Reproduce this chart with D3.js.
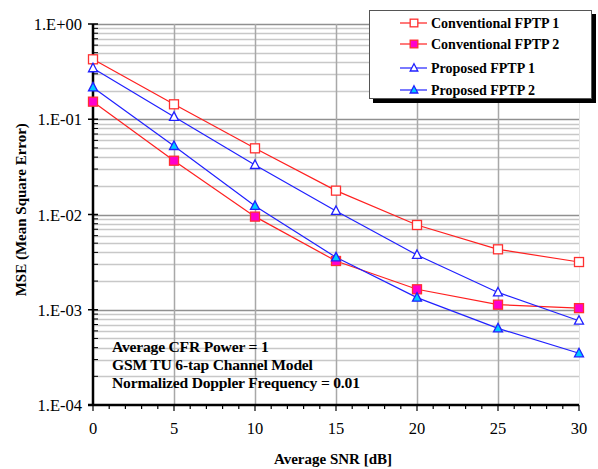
<!DOCTYPE html>
<meta charset="utf-8">
<style>
body { margin: 0; background: #fff; }
text { font-family: "Liberation Serif", "Times New Roman", serif; }
</style>
<body>
<div id="chart"></div>
<script src="https://d3js.org/d3.v7.min.js"></script>
<script>

var snr = [0, 5, 10, 15, 20, 25, 30];

var convFptp1 = [0.426, 0.1435, 0.0495, 0.0178, 0.00776, 0.00431, 0.00317];
var convFptp2 = [0.153, 0.0367, 0.0095, 0.00325, 0.00164, 0.00113, 0.00104];
var propFptp1 = [0.343, 0.106, 0.0331, 0.0109, 0.00376, 0.00152, 0.000767];
var propFptp2 = [0.216, 0.0524, 0.0123, 0.00355, 0.00134, 0.000638, 0.000349];

var yTickLabels = ["1.E-04", "1.E-03", "1.E-02", "1.E-01", "1.E+00"];
var notes = ["Average CFR Power = 1", "GSM TU 6-tap Channel Model", "Normalized Doppler Frequency = 0.01"];

var series = [
  {name: "Conventional FPTP 1", values: convFptp1, line: "#ff2020", fill: "#ffffff", stroke: "#ff3030", shape: "square"},
  {name: "Conventional FPTP 2", values: convFptp2, line: "#ff2020", fill: "#ff00cc", stroke: "#ff3030", shape: "square"},
  {name: "Proposed FPTP 1", values: propFptp1, line: "#2020ff", fill: "#ffffff", stroke: "#2020ff", shape: "triangle"},
  {name: "Proposed FPTP 2", values: propFptp2, line: "#2020ff", fill: "#00ccff", stroke: "#2020ff", shape: "triangle"}
];

var width = 598, height = 469;
var margin = {left: 93, right: 19, top: 24, bottom: 64};

var svg = d3.select("#chart").append("svg")
    .attr("width", width)
    .attr("height", height);

var x = d3.scaleLinear().domain([0, 30]).range([margin.left, width - margin.right]);
var y = d3.scaleLog().domain([1e-4, 1]).range([height - margin.bottom, margin.top]);

// grid
var minorVals = [];
for (var e = -4; e < 0; e++) {
  for (var m = 2; m <= 9; m++) minorVals.push(m * Math.pow(10, e));
}
var majorVals = [1e-3, 1e-2, 1e-1, 1];

svg.append("g").selectAll("line")
  .data(minorVals)
  .enter().append("line")
    .attr("x1", x(0)).attr("x2", x(30))
    .attr("y1", function(d) { return Math.round(y(d)) + 0.5; })
    .attr("y2", function(d) { return Math.round(y(d)) + 0.5; })
    .attr("stroke", "#c8c8c8").attr("stroke-width", 1.5);

svg.append("g").selectAll("line")
  .data(majorVals)
  .enter().append("line")
    .attr("x1", x(0)).attr("x2", x(30))
    .attr("y1", function(d) { return Math.round(y(d)) + 0.5; })
    .attr("y2", function(d) { return Math.round(y(d)) + 0.5; })
    .attr("stroke", "#909090").attr("stroke-width", 1.5);

svg.append("g").selectAll("line")
  .data([5, 10, 15, 20, 25])
  .enter().append("line")
    .attr("x1", function(d) { return Math.round(x(d)) + 0.5; })
    .attr("x2", function(d) { return Math.round(x(d)) + 0.5; })
    .attr("y1", y(1)).attr("y2", y(1e-4))
    .attr("stroke", "#a8a8a8").attr("stroke-width", 1.5);

svg.append("line")
    .attr("x1", x(30) + 0.5).attr("x2", x(30) + 0.5)
    .attr("y1", y(1)).attr("y2", y(1e-4))
    .attr("stroke", "#e4e4e4");

// axes
var gy = svg.append("g")
    .attr("transform", "translate(" + x(0) + ",0)");

gy.selectAll(".minor")
  .data(minorVals)
  .enter().append("line")
    .attr("x1", 0).attr("x2", 5)
    .attr("y1", function(d) { return y(d); })
    .attr("y2", function(d) { return y(d); })
    .attr("stroke", "#000").attr("stroke-width", 1);

gy.selectAll(".major")
  .data([1e-4, 1e-3, 1e-2, 1e-1, 1])
  .enter().append("line")
    .attr("x1", -5).attr("x2", 5)
    .attr("y1", function(d) { return y(d); })
    .attr("y2", function(d) { return y(d); })
    .attr("stroke", "#000").attr("stroke-width", 1.5);

gy.append("line")
    .attr("x1", 0).attr("x2", 0)
    .attr("y1", y(1)).attr("y2", y(1e-4))
    .attr("stroke", "#000").attr("stroke-width", 2.5);

gy.selectAll(".lab")
  .data(yTickLabels)
  .enter().append("text")
    .attr("x", -11)
    .attr("y", function(d, i) { return y(Math.pow(10, i - 4)) + 6; })
    .attr("text-anchor", "end")
    .attr("font-size", 16.5)
    .text(function(d) { return d; });

var gx = svg.append("g")
    .attr("transform", "translate(0," + y(1e-4) + ")");

gx.selectAll(".minor")
  .data(d3.range(0, 31))
  .enter().append("line")
    .attr("x1", function(d) { return x(d); })
    .attr("x2", function(d) { return x(d); })
    .attr("y1", 0)
    .attr("y2", function(d) { return d % 5 === 0 ? 6 : 4; })
    .attr("stroke", "#000").attr("stroke-width", 1.2);

gx.append("line")
    .attr("x1", x(0) - 5).attr("x2", x(30))
    .attr("y1", 0).attr("y2", 0)
    .attr("stroke", "#000").attr("stroke-width", 2.5);

gx.selectAll(".lab")
  .data(snr)
  .enter().append("text")
    .attr("x", function(d) { return x(d); })
    .attr("y", 29)
    .attr("text-anchor", "middle")
    .attr("font-size", 16.5)
    .text(function(d) { return d; });

// axis titles
svg.append("text")
    .attr("x", x(15) - 3)
    .attr("y", 464)
    .attr("text-anchor", "middle")
    .attr("font-size", 15)
    .attr("font-weight", "bold")
    .text("Average SNR [dB]");

svg.append("text")
    .attr("transform", "translate(26," + y(Math.pow(10, -1.95)) + ") rotate(-90)")
    .attr("text-anchor", "middle")
    .attr("font-size", 15)
    .attr("font-weight", "bold")
    .text("MSE (Mean Square Error)");

// series
var line = d3.line()
    .x(function(d, i) { return x(snr[i]); })
    .y(function(d) { return y(d); });

function marker(g, s, k) {
  if (s.shape === "square") {
    g.append("rect")
      .attr("x", -4.5 * k).attr("y", -4.5 * k).attr("width", 9 * k).attr("height", 9 * k)
      .attr("fill", s.fill).attr("stroke", s.stroke).attr("stroke-width", 1.3);
  } else {
    g.append("path")
      .attr("d", "M0," + (-5 * k) + "L" + (4.5 * k) + "," + (3.5 * k) + "L" + (-4.5 * k) + "," + (3.5 * k) + "Z")
      .attr("fill", s.fill).attr("stroke", s.stroke).attr("stroke-width", 1.3);
  }
}

series.forEach(function(s) {
  svg.append("path")
    .datum(s.values)
    .attr("fill", "none")
    .attr("stroke", s.line)
    .attr("stroke-width", 1.2)
    .attr("d", line);
});

series.forEach(function(s) {
  svg.append("g").selectAll("g")
    .data(s.values)
    .enter().append("g")
      .attr("transform", function(d, i) { return "translate(" + x(snr[i]) + "," + y(d) + ")"; })
      .each(function() { marker(d3.select(this), s, 1); });
});

// notes
svg.append("g").selectAll("text")
  .data(notes)
  .enter().append("text")
    .attr("x", 112)
    .attr("y", function(d, i) { return 352 + i * 18; })
    .attr("font-size", 15.6)
    .attr("font-weight", "bold")
    .attr("letter-spacing", -0.2)
    .text(function(d) { return d; });

// legend
var legend = svg.append("g");
legend.append("rect")
    .attr("x", 373).attr("y", 14).attr("width", 223).attr("height", 89)
    .attr("fill", "#000");
legend.append("rect")
    .attr("x", 369.5).attr("y", 10.5).attr("width", 222).attr("height", 88)
    .attr("fill", "#fff").attr("stroke", "#555").attr("stroke-width", 1);

var rowY = [23, 44, 68, 90];
series.forEach(function(s, i) {
  var row = legend.append("g").attr("transform", "translate(0," + rowY[i] + ")");
  row.append("line")
    .attr("x1", 400).attr("x2", 427).attr("y1", 0).attr("y2", 0)
    .attr("stroke", s.line).attr("stroke-width", 1.2);
  var mg = row.append("g").attr("transform", "translate(414,0)");
  marker(mg, s, 0.85);
  row.append("text")
    .attr("x", 431)
    .attr("y", 5)
    .attr("font-size", 14)
    .attr("font-weight", "bold")
    .text(s.name);
});

</script>
</body>
